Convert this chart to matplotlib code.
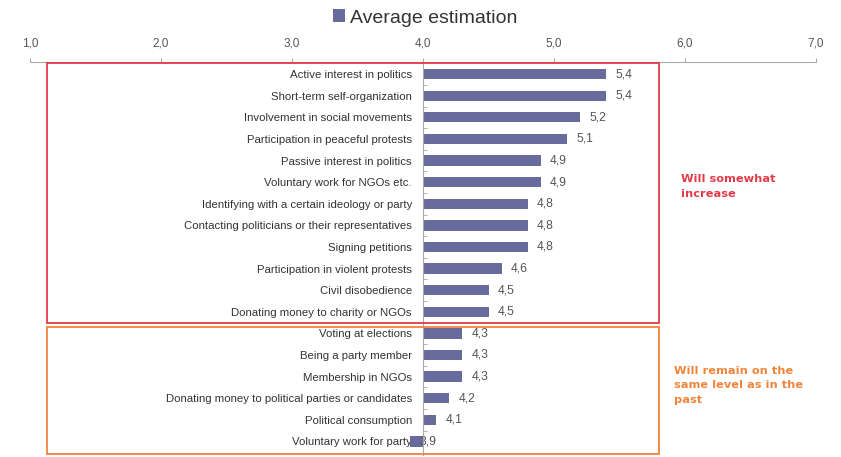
import matplotlib.pyplot as plt
from matplotlib.patches import Rectangle

plt.rcParams['font.family'] = ['Liberation Sans', 'DejaVu Sans']

categories = [
    "Active interest in politics",
    "Short-term self-organization",
    "Involvement in social movements",
    "Participation in peaceful protests",
    "Passive interest in politics",
    "Voluntary work for NGOs etc.",
    "Identifying with a certain ideology or party",
    "Contacting politicians or their representatives",
    "Signing petitions",
    "Participation in violent protests",
    "Civil disobedience",
    "Donating money to charity or NGOs",
    "Voting at elections",
    "Being a party member",
    "Membership in NGOs",
    "Donating money to political parties or candidates",
    "Political consumption",
    "Voluntary work for party",
]
values = [5.4, 5.4, 5.2, 5.1, 4.9, 4.9, 4.8, 4.8, 4.8, 4.6, 4.5, 4.5,
          4.3, 4.3, 4.3, 4.2, 4.1, 3.9]
xticks = [1, 2, 3, 4, 5, 6, 7]
series_name = "Average estimation"
group_labels = ["Will somewhat\nincrease", "Will remain on the\nsame level as in the\npast"]

bar_color = '#686C9C'
red = '#E23A48'
orange = '#F0843A'
baseline = 4.0

fig = plt.figure(figsize=(8.41, 4.57), dpi=100)
ax = fig.add_axes([30 / 841, 0.004, (816 - 30) / 841, 1 - 62 / 457 - 0.004])

# spine position first (it resets tick settings)
for s in ['right', 'bottom']:
    ax.spines[s].set_visible(False)
ax.spines['left'].set_position(('data', baseline))
ax.spines['left'].set_color('#aaaaaa')
ax.spines['top'].set_color('#aaaaaa')
ax.spines['left'].set_zorder(4)

ypos = list(range(len(categories)))
widths = [v - baseline for v in values]
ax.barh(ypos, widths, left=baseline, height=0.48, color=bar_color, label=series_name, zorder=3)

for y, v in zip(ypos, values):
    ax.text(v + 0.07, y, f"{v:.1f}".replace('.', ','), va='center', ha='left',
            fontsize=8.7, color='#555555')

ax.set_xlim(1, 7)
ax.set_ylim(17.64, -0.56)
ax.set_xticks(xticks)
ax.set_xticklabels([f"{t:.1f}".replace('.', ',') for t in xticks], fontsize=8.5, color='#555555')
ax.xaxis.tick_top()
ax.tick_params(axis='x', direction='out', length=3, color='#aaaaaa', pad=6)

ax.set_yticks(ypos)
ax.set_yticklabels(categories, fontsize=8.2, color='#333333')
ax.set_yticks([y + 0.5 for y in ypos[:-1]], minor=True)
ax.tick_params(axis='y', which='major', length=0, pad=8)
ax.tick_params(axis='y', which='minor', length=3, color='#aaaaaa', direction='in')

# group boxes
ax.add_patch(Rectangle((1.13, -0.53), 4.67, 12.06, fill=False, ec=red, lw=1.3,
                       clip_on=False, zorder=5))
ax.add_patch(Rectangle((1.13, 11.71), 4.67, 5.88, fill=False, ec=orange, lw=1.3,
                       clip_on=False, zorder=5))

fig.text(681 / 841, 1 - 174 / 457, group_labels[0], color=red, fontsize=8.2,
         fontweight='bold', va='top', ha='left', linespacing=1.65,
         family='DejaVu Sans')
fig.text(674 / 841, 1 - 366 / 457, group_labels[1], color=orange, fontsize=8.2,
         fontweight='bold', va='top', ha='left', linespacing=1.55,
         family='DejaVu Sans')

fig.legend(loc='center', bbox_to_anchor=(425 / 841, 1 - 18 / 457), frameon=False,
           fontsize=14, handlelength=0.6, handleheight=0.6, handletextpad=0.25,
           labelcolor='#333333')

fig.savefig('out.png', dpi=100)
